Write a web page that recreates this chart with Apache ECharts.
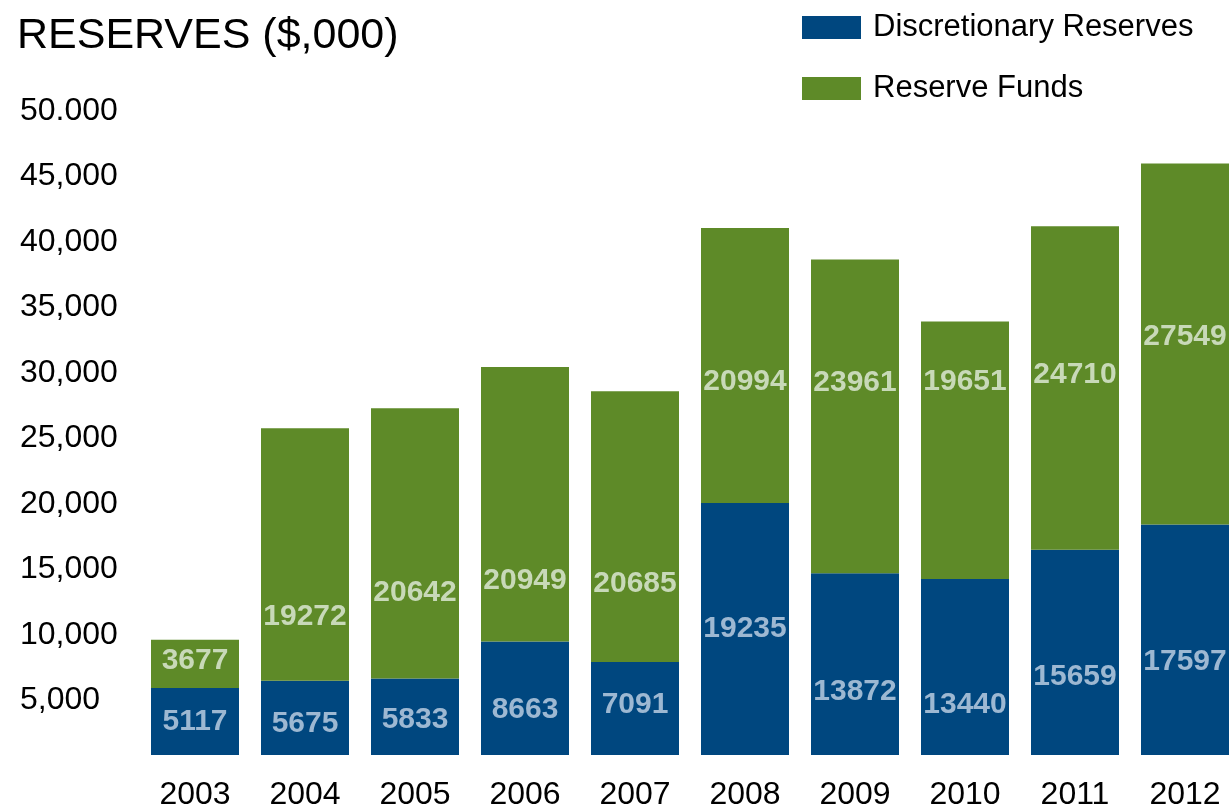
<!DOCTYPE html>
<html>
<head>
<meta charset="utf-8">
<script src="https://cdn.jsdelivr.net/npm/echarts@6/dist/echarts.min.js"></script>
<style>
  html, body { margin: 0; padding: 0; background: #fff; overflow: hidden; }
  /* the last bar runs off the right edge in the original, so the canvas is a bit wider than the window */
  #chart { width: 1240px; height: 811px; }
</style>
</head>
<body>
<div id="chart"></div>
<script>
// data
const years = ['2003', '2004', '2005', '2006', '2007', '2008', '2009', '2010', '2011', '2012'];
const discretionary = [5117, 5675, 5833, 8663, 7091, 19235, 13872, 13440, 15659, 17597];
const reserveFunds = [3677, 19272, 20642, 20949, 20685, 20994, 23961, 19651, 24710, 27549];
const yTickLabels = ['', '5,000', '10,000', '15,000', '20,000', '25,000', '30,000', '35,000', '40,000', '45,000', '50.000'];

// label nudges (px) so the numbers sit where the original put them
const blueLabelShift = [0, 6, 3, 11, -4, 0, 28, 38, 24, 22];
const greenLabelShift = [-3, 62, 49, 76, 57, 16, -34, -68, -13, -7];

const FONT = "'Liberation Sans', Arial, sans-serif";
const colors = ['#00477f', '#5e8a28'];

const chart = echarts.init(document.getElementById('chart'));

function withLabels(values, shifts) {
  return values.map((v, i) => ({
    value: v,
    label: { offset: [0, shifts[i]] }
  }));
}

chart.setOption({
  color: colors,
  animation: false,
  textStyle: { fontFamily: FONT },
  title: {
    text: 'RESERVES ($,000)',
    left: 17,
    top: 15,
    padding: 0,
    textStyle: { fontFamily: FONT, fontSize: 43, fontWeight: 'normal', color: '#000' }
  },
  legend: {
    orient: 'vertical',
    left: 802,
    top: 12,
    padding: 0,
    itemWidth: 59,
    itemHeight: 23,
    itemGap: 30,
    icon: 'rect',
    textStyle: { fontFamily: FONT, fontSize: 31, lineHeight: 30, color: '#000', padding: [0, 0, 0, 7] },
    data: ['Discretionary Reserves', 'Reserve Funds']
  },
  grid: {
    left: 140,
    right: 0,
    top: 100,
    bottom: 55
  },
  xAxis: {
    type: 'category',
    data: years,
    axisLine: { show: false },
    axisTick: { show: false },
    axisLabel: {
      interval: 0,
      fontFamily: FONT,
      fontSize: 32,
      color: '#000',
      margin: 24
    }
  },
  yAxis: {
    type: 'value',
    min: 0,
    max: 50000,
    interval: 5000,
    axisLine: { show: false },
    axisTick: { show: false },
    splitLine: { show: false },
    axisLabel: {
      fontFamily: FONT,
      fontSize: 32,
      color: '#000',
      align: 'left',
      verticalAlign: 'top',
      lineHeight: 22,
      margin: 120,
      formatter: (v) => yTickLabels[Math.round(v / 5000)]
    }
  },
  series: [
    {
      name: 'Discretionary Reserves',
      type: 'bar',
      stack: 'total',
      barWidth: 88,
      data: withLabels(discretionary, blueLabelShift),
      label: {
        show: true,
        position: 'inside',
        fontFamily: FONT,
        fontSize: 30,
        fontWeight: 'bold',
        color: '#9db8d2'
      }
    },
    {
      name: 'Reserve Funds',
      type: 'bar',
      stack: 'total',
      barWidth: 88,
      data: withLabels(reserveFunds, greenLabelShift),
      label: {
        show: true,
        position: 'inside',
        fontFamily: FONT,
        fontSize: 30,
        fontWeight: 'bold',
        color: '#c8d9b8'
      }
    }
  ]
});
</script>
</body>
</html>
